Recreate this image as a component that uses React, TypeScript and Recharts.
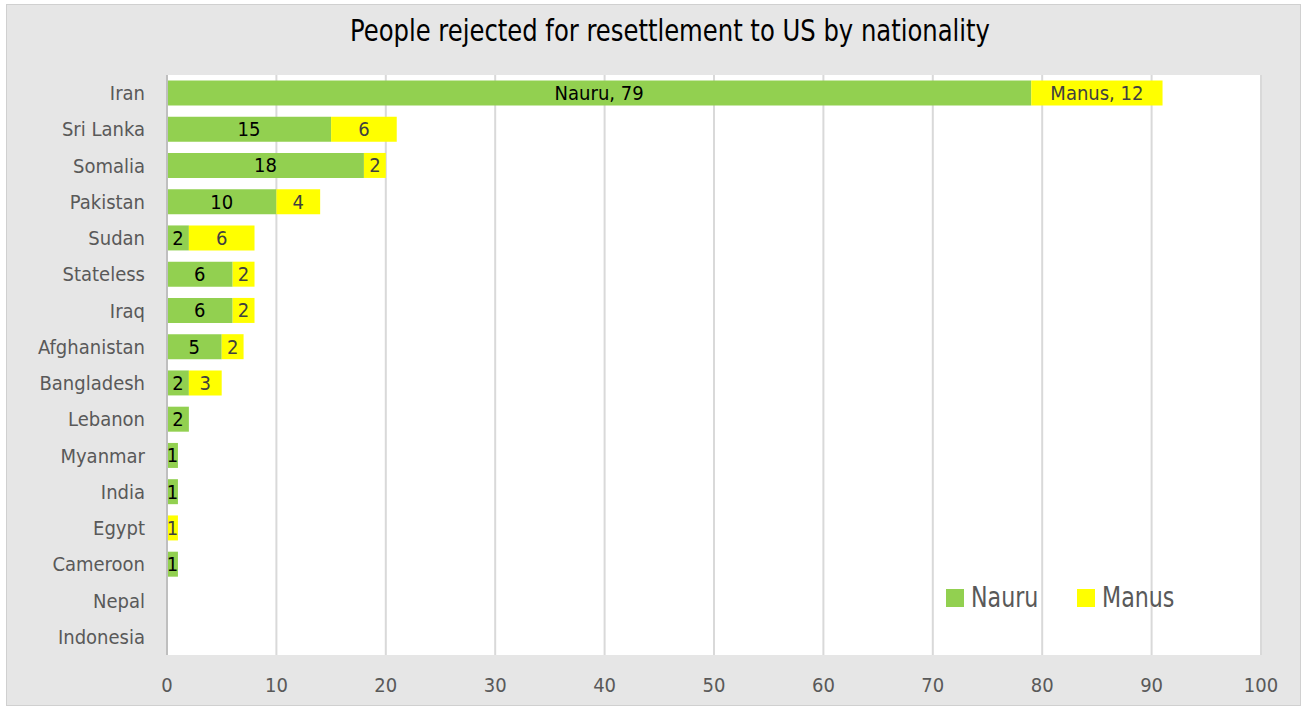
import { BarChart, Bar, XAxis, YAxis, CartesianGrid, LabelList } from "recharts";

const countries = [
  "Iran", "Sri Lanka", "Somalia", "Pakistan", "Sudan", "Stateless", "Iraq", "Afghanistan",
  "Bangladesh", "Lebanon", "Myanmar", "India", "Egypt", "Cameroon", "Nepal", "Indonesia",
];
const nauru = [79, 15, 18, 10, 2, 6, 6, 5, 2, 2, 1, 1, 0, 1, 0, 0];
const manus = [12, 6, 2, 4, 6, 2, 2, 2, 3, 0, 0, 0, 1, 0, 0, 0];
const xTicks = [0, 10, 20, 30, 40, 50, 60, 70, 80, 90, 100];

const data = countries.map((country, i) => ({
  country,
  Nauru: nauru[i],
  Manus: manus[i],
}));

const FONT = "'Liberation Sans Narrow', 'DejaVu Sans Condensed', sans-serif";
const GREEN = "#92d050";
const YELLOW = "#ffff00";

// label: hide zeros, prefix series name on the first row
const makeLabel = (series: string, color: string) => (props: any) => {
  const { x, y, width, height, value, index } = props;
  if (!value) return null;
  const text = index === 0 ? `${series}, ${value}` : `${value}`;
  return (
    <text
      x={x + width / 2}
      y={y + height / 2}
      textAnchor="middle"
      dominantBaseline="central"
      fontSize={20}
      fontFamily={FONT}
      fill={color}
    >
      {text}
    </text>
  );
};

function LegendBox() {
  const item = (name: string, color: string, left: number) => (
    <div style={{ position: "absolute", left, top: 0, display: "flex", alignItems: "center" }}>
      <div style={{ width: 18, height: 18, background: color, marginRight: 7 }} />
      <span
        style={{
          fontSize: 28,
          color: "#595959",
          fontFamily: FONT,
          display: "inline-block",
          transform: "scaleX(0.88)",
          transformOrigin: "left center",
        }}
      >
        {name}
      </span>
    </div>
  );
  return (
    <div style={{ position: "absolute", left: 946, top: 581, width: 320, height: 36 }}>
      {item("Nauru", GREEN, 0)}
      {item("Manus", YELLOW, 131)}
    </div>
  );
}

export default function App() {
  return (
    <div style={{ position: "absolute", left: 0, top: 0, width: 1307, height: 711, background: "#fff" }}>
      <div
        style={{
          position: "absolute",
          left: 6,
          top: 4,
          width: 1295,
          height: 702,
          background: "#e6e6e6",
          border: "1px solid #d0d0d0",
          boxSizing: "border-box",
        }}
      />
      <div
        style={{
          position: "absolute",
          left: 0,
          top: 13,
          width: 1340,
          textAlign: "center",
          fontFamily: FONT,
          fontSize: 30,
          color: "#000",
          transform: "scaleX(0.9)",
          transformOrigin: "670px 0",
        }}
      >
        People rejected for resettlement to US by nationality
      </div>
      <div style={{ position: "absolute", left: 0, top: 0 }}>
        <BarChart
          width={1307}
          height={711}
          data={data}
          layout="vertical"
          barCategoryGap="15%"
          margin={{ top: 75, right: 46, left: 0, bottom: 0 }}
        >
          <CartesianGrid horizontal={false} fill="#ffffff" stroke="#d9d9d9" strokeWidth={2} />
          <XAxis
            type="number"
            domain={[0, 100]}
            ticks={xTicks}
            axisLine={false}
            tickLine={false}
            tickSize={0}
            tickMargin={23}
            height={56}
            tick={{ fontSize: 20, fill: "#595959", fontFamily: FONT }}
          />
          <YAxis
            type="category"
            dataKey="country"
            width={167}
            axisLine={{ stroke: "#bfbfbf", strokeWidth: 2 }}
            tickLine={false}
            tickSize={0}
            tickMargin={22}
            interval={0}
            tick={{ fontSize: 20, fill: "#595959", fontFamily: FONT }}
          />
          <Bar dataKey="Nauru" stackId="a" fill={GREEN} isAnimationActive={false}>
            <LabelList dataKey="Nauru" content={makeLabel("Nauru", "#000")} />
          </Bar>
          <Bar dataKey="Manus" stackId="a" fill={YELLOW} isAnimationActive={false}>
            <LabelList dataKey="Manus" content={makeLabel("Manus", "#404040")} />
          </Bar>
        </BarChart>
      </div>
      <LegendBox />
    </div>
  );
}
